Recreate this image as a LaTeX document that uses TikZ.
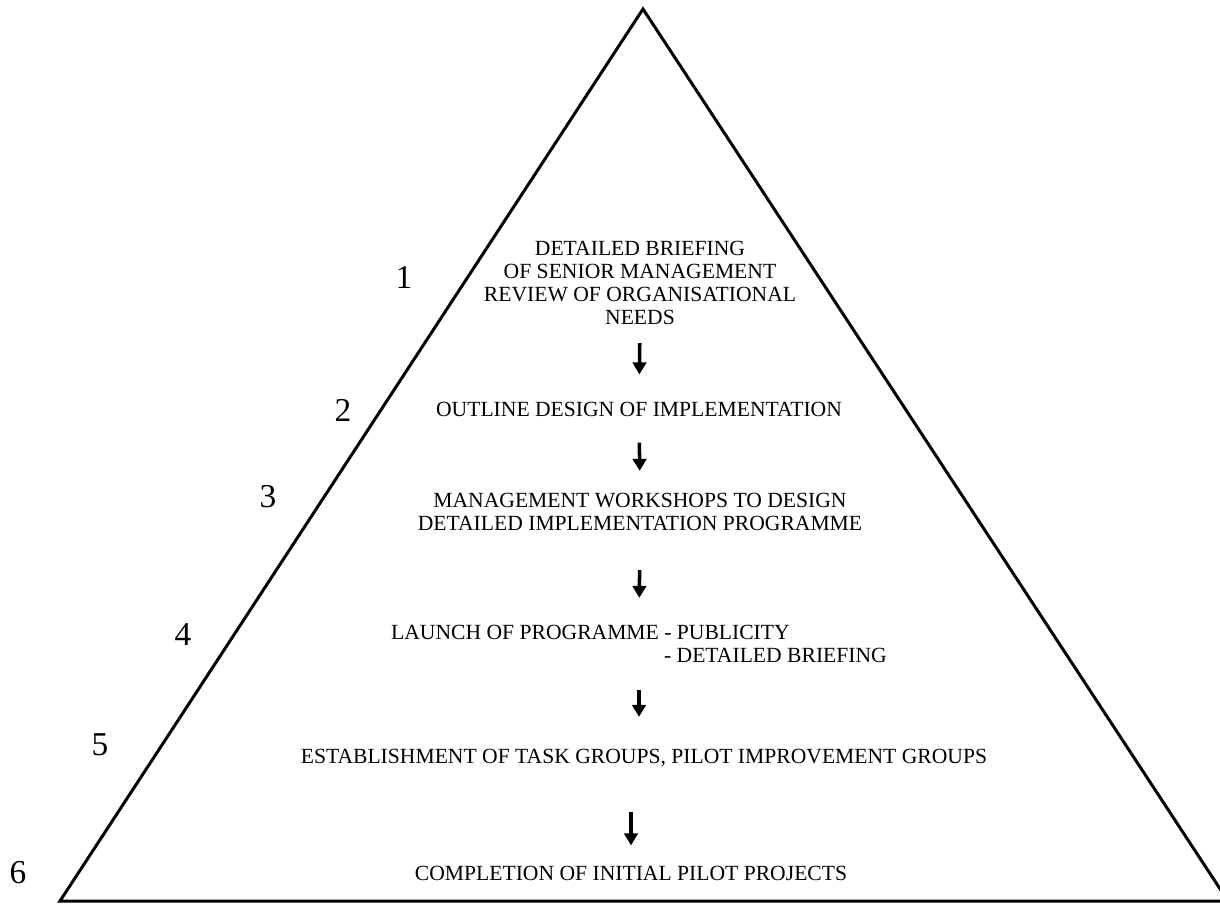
\documentclass[tikz,border=0pt]{standalone}
\usepackage{fontspec}
\setmainfont{Liberation Serif}
\usetikzlibrary{arrows.meta}

\tikzset{
  stage/.style={inner sep=0pt, align=center, font=\fontsize{12.3}{13.1}\selectfont},
  stagenum/.style={inner sep=0pt, font=\fontsize{19}{19}\selectfont},
  flow/.style={line width=2pt, -{Triangle[width=0.27cm, length=0.24cm]}}
}

\begin{document}
\begin{tikzpicture}[x=0.02cm, y=-0.02cm]

  \useasboundingbox (0,0) rectangle (1220,903);

  % the pyramid
  \coordinate (apex) at (643,9);
  \coordinate (left) at (60,901);
  \coordinate (right) at (1228,901);
  \draw[line width=1.7pt, line join=miter] (apex) -- (left) -- (right) -- cycle;

  % stages
  \node[stage] (s1) at (640,283) {DETAILED BRIEFING\\OF SENIOR MANAGEMENT\\REVIEW OF ORGANISATIONAL\\NEEDS};
  \node[stage] (s2) at (639,409) {OUTLINE DESIGN OF IMPLEMENTATION};
  \node[stage] (s3) at (640,512) {MANAGEMENT WORKSHOPS TO DESIGN\\DETAILED IMPLEMENTATION PROGRAMME};
  \node[stage, align=left] (s4) at (639,644) {LAUNCH OF PROGRAMME - PUBLICITY\\\hspace*{5.46cm}- DETAILED BRIEFING};
  \node[stage] (s5) at (644,758) {ESTABLISHMENT OF TASK GROUPS, PILOT IMPROVEMENT GROUPS};
  \node[stage] (s6) at (631,873) {COMPLETION OF INITIAL PILOT PROJECTS};

  % numbers
  \node[stagenum] (n1) at (404,277) {1};
  \node[stagenum] (n2) at (343,410) {2};
  \node[stagenum] (n3) at (268,497) {3};
  \node[stagenum] (n4) at (183,635) {4};
  \node[stagenum] (n5) at (100,745) {5};
  \node[stagenum] (n6) at (18,873) {6};

  % arrows
  \draw[flow, shorten <=0.36cm, shorten >=0.54cm] (s1.south) -- (s2.north);
  \draw[flow, shorten <=0.52cm, shorten >=0.44cm] (s2.south) -- (s3.north);
  \draw[flow, shorten <=0.78cm, shorten >=0.54cm] (s3.south) -- (s4.north);
  \draw[flow, shorten <=0.54cm, shorten >=0.64cm] (s4.south) -- (s4.south |- s5.north);
  \draw[flow, shorten <=0.9cm, shorten >=0.4cm] (s6.north |- s5.south) -- (s6.north);

\end{tikzpicture}
\end{document}
